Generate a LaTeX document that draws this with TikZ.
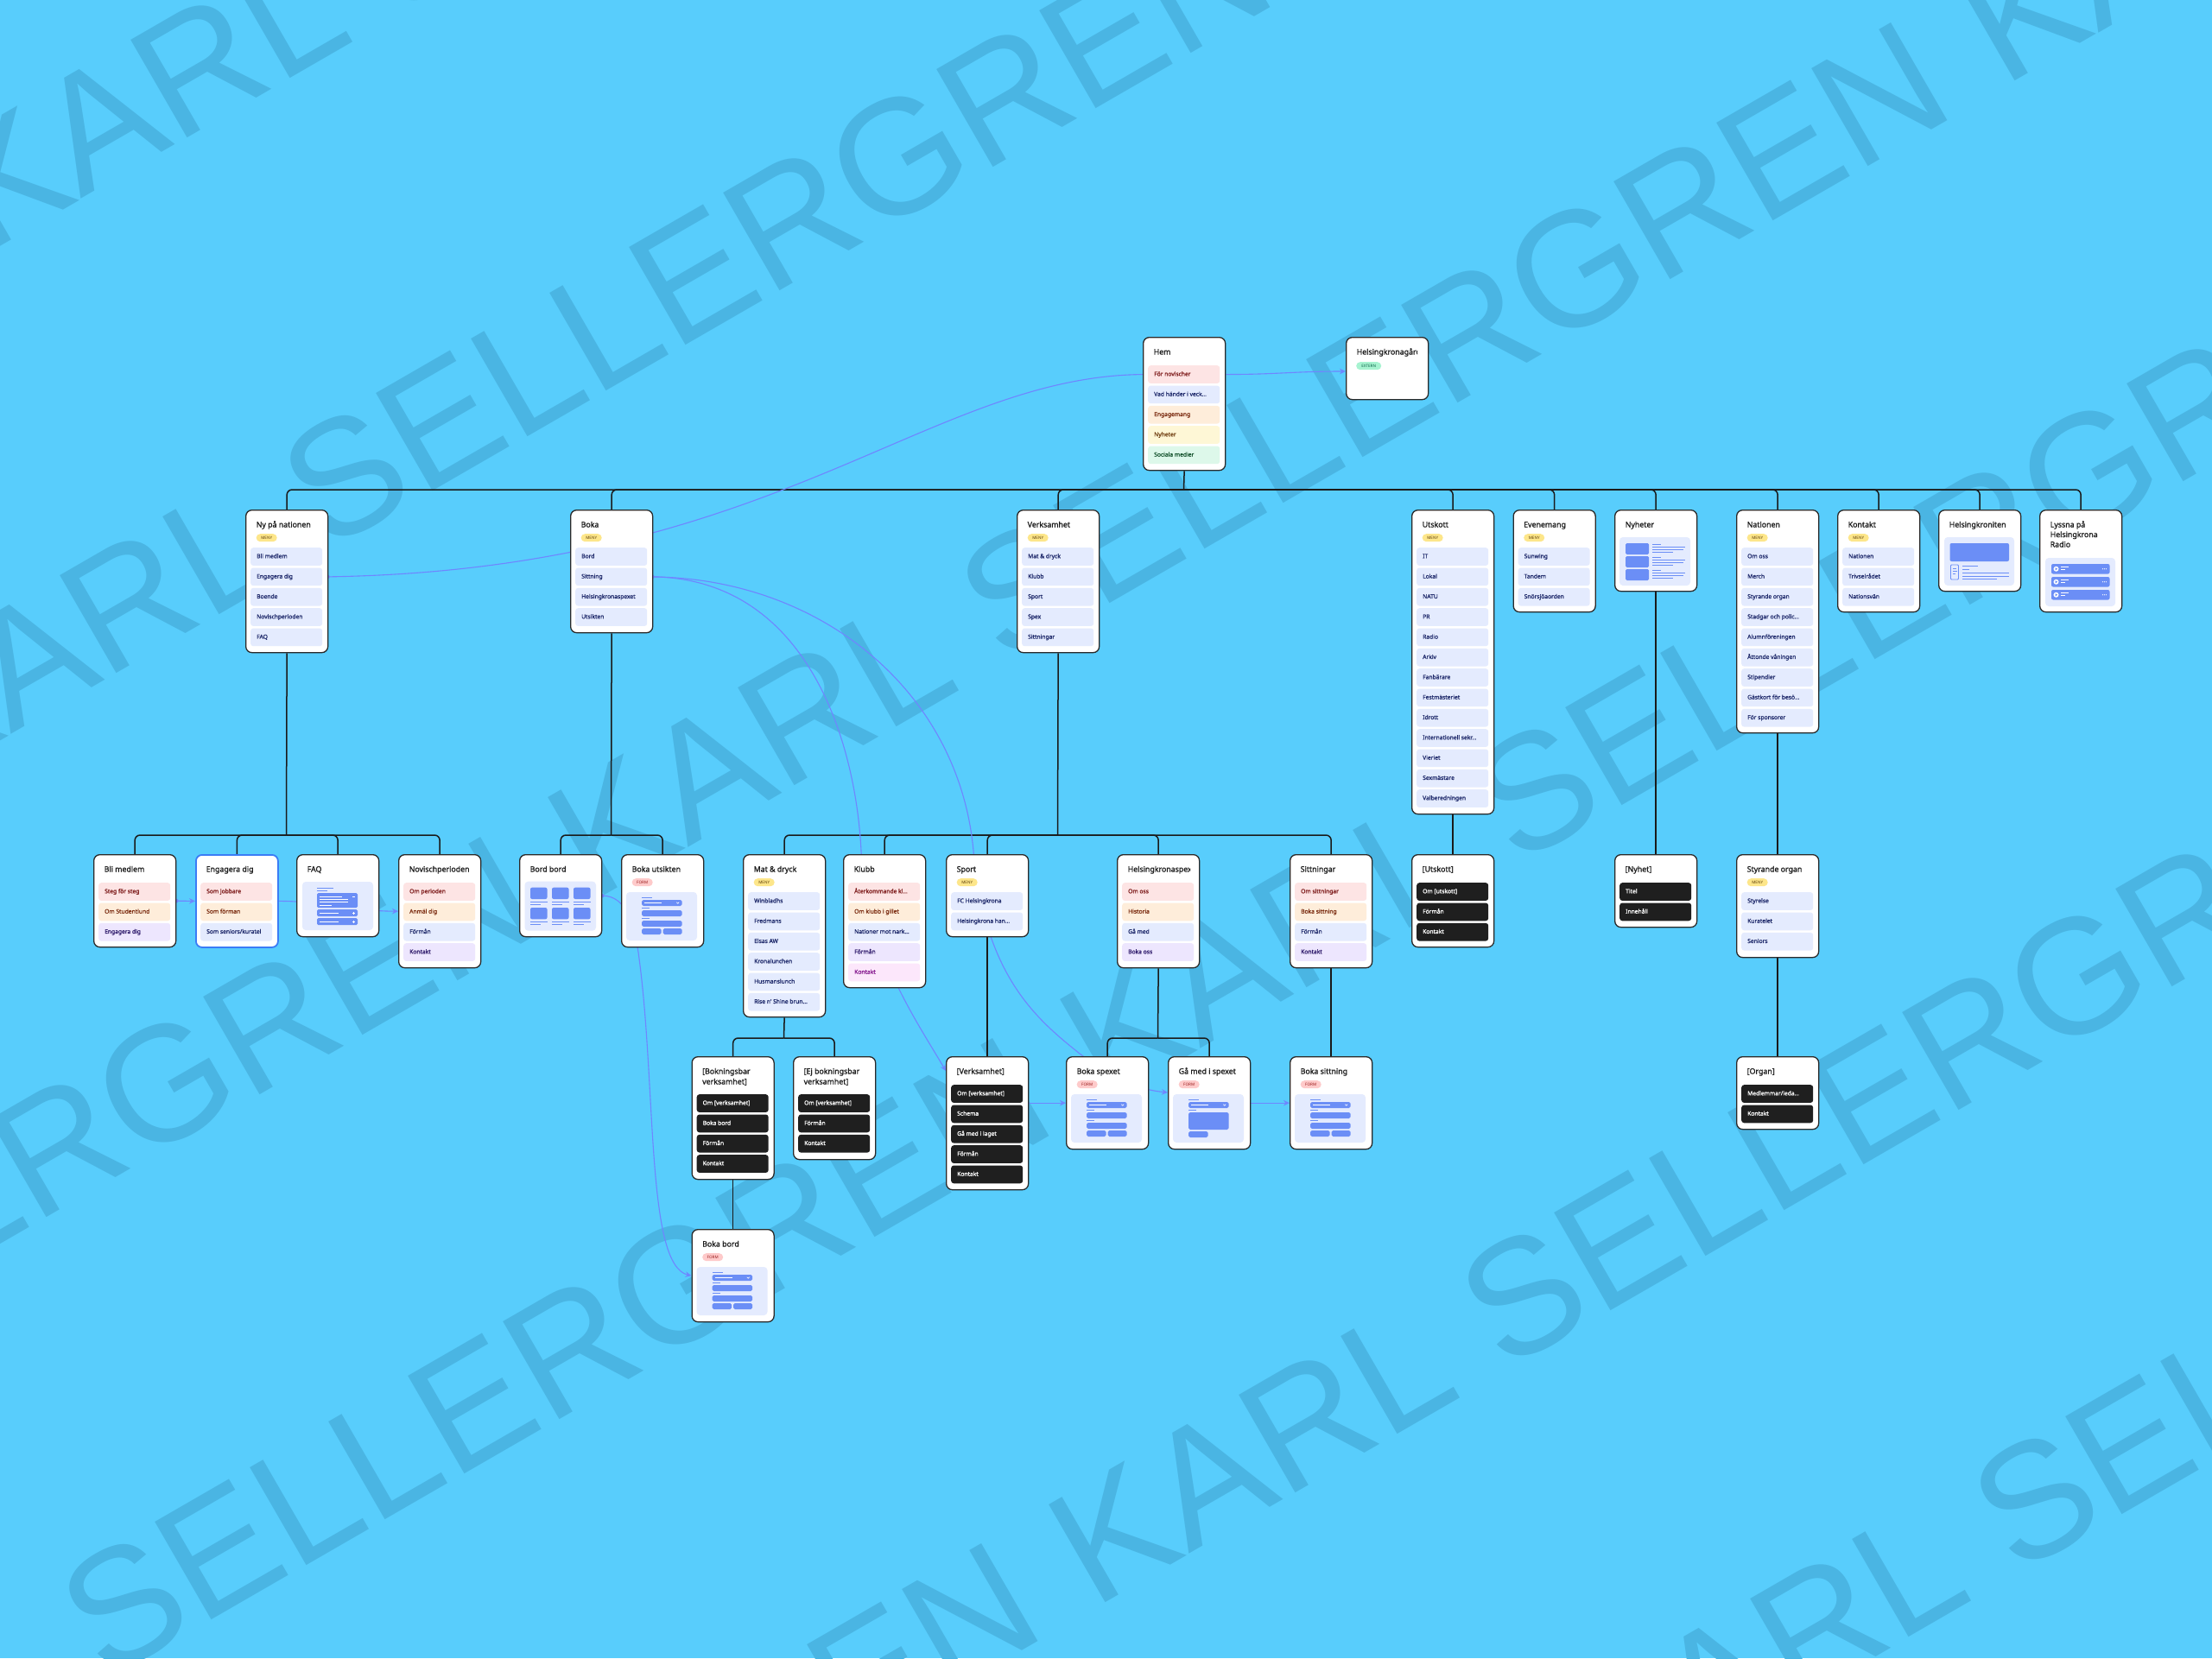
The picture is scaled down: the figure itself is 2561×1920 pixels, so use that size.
\documentclass[tikz,border=0pt]{standalone}
\usepackage{fontspec}
\setmainfont{Noto Sans}
\newfontfamily\ttlfam[FakeBold=1.2]{Noto Sans}
\newfontfamily\itmfam[FakeBold=1.3]{Noto Sans}
\newfontfamily\wmfam{Liberation Sans}
\usetikzlibrary{arrows.meta,calc}
\pgfdeclarelayer{wmlayer}
\pgfdeclarelayer{linklayer}
\pgfsetlayers{wmlayer,linklayer,main}
\definecolor{bgc}{HTML}{58CDFC}
\definecolor{wmc}{HTML}{4AB5E3}
\definecolor{cardline}{HTML}{2A2A2A}
\definecolor{titlec}{HTML}{1C1C1C}
\definecolor{treec}{HTML}{1A1A1A}
\definecolor{linkc}{HTML}{6F86FF}
\definecolor{engc}{HTML}{3B7CF6}
\definecolor{fb}{HTML}{6B8EF6}
\definecolor{panelbg}{HTML}{E4EBFE}
\definecolor{ibg-blue}{HTML}{E4EBFE}\definecolor{ifg-blue}{HTML}{1F2A6B}
\definecolor{ibg-red}{HTML}{FDE4E4}\definecolor{ifg-red}{HTML}{7F1D1D}
\definecolor{ibg-orange}{HTML}{FEEDDA}\definecolor{ifg-orange}{HTML}{7C2D12}
\definecolor{ibg-yellow}{HTML}{FEF7D6}\definecolor{ifg-yellow}{HTML}{713F12}
\definecolor{ibg-green}{HTML}{DDF8EA}\definecolor{ifg-green}{HTML}{14532D}
\definecolor{ibg-purple}{HTML}{EDE6FE}\definecolor{ifg-purple}{HTML}{2E1A6B}
\definecolor{ibg-pink}{HTML}{FCE7FB}\definecolor{ifg-pink}{HTML}{86198F}
\definecolor{ibg-dark}{HTML}{1F1F1F}\definecolor{ifg-dark}{HTML}{FFFFFF}
\definecolor{menybg}{HTML}{FDE68A}\definecolor{menyfg}{HTML}{5C3D0A}
\definecolor{formbg}{HTML}{FECACA}\definecolor{formfg}{HTML}{991B1B}
\definecolor{extbg}{HTML}{A7F3D0}\definecolor{extfg}{HTML}{065F46}
\tikzset{
 card/.style={draw=cardline, fill=white, line width=1.3pt, rounded corners=7pt, inner sep=0pt, anchor=north west},
 ttl/.style={font=\ttlfam\fontsize{8.8}{10.5}\selectfont, text=titlec, anchor=base west, inner sep=0pt},
 itm/.style={rounded corners=3pt, inner sep=0pt, anchor=north west, minimum width=83pt, minimum height=20.7pt},
 itxt/.style={font=\itmfam\fontsize{6.7}{8}\selectfont, anchor=west, inner sep=0pt, text height=4.9pt, text depth=1.4pt},
 badge/.style={rounded corners=4.5pt, inner sep=0pt, anchor=north west, minimum width=24pt, minimum height=9pt, font=\bfseries\fontsize{4.6}{5}\selectfont},
 tree/.style={draw=treec, line width=1.5pt, rounded corners=6pt},
 link/.style={draw=linkc, line width=1.1pt},
 lnkarr/.style={-{Stealth[length=7pt,width=6.5pt]}},
 wm/.style={rotate=30, anchor=base west, inner sep=0pt, text=wmc, font=\wmfam\fontsize{190}{190}\selectfont},
}
\newcommand\mkcard[6]{%
  \node[card, minimum width=#4pt, minimum height=#5pt] (#1) at (#2,#3) {};
  \node[ttl] (#1-t) at (#2+12.5,#3+20.5) {#6};}
\newcommand\mkitems[4]{%
  \foreach \ks/\kt [count=\ki] in {#4}{%
    \node[itm, fill=ibg-\ks] (#1-\ki) at (#2+6,{#3+(\ki-1)*23.333}) {};
    \node[itxt, text=ifg-\ks] (#1-\ki-x) at ([xshift=7pt]#1-\ki.west) {\kt};
  }}
\newcommand\meny[3]{\node[badge, fill=menybg, text=menyfg] (#1-b) at (#2+12.5,#3+28) {MENY};}
\newcommand\formb[3]{\node[badge, fill=formbg, text=formfg] (#1-b) at (#2+12.5,#3+28) {FORM};}
\newcommand\fpanel[2]{%
  \fill[panelbg, rounded corners=4pt] (#1,#2) rectangle ++(82,56);
  \fill[fb] (#1+18,#2+5.6) rectangle ++(12,1.3);
  \fill[fb, rounded corners=1.8pt] (#1+18,#2+9) rectangle ++(46.6,7);
  \draw[white, line width=0.9pt] (#1+21,#2+12.5) -- ++(20,0);
  \draw[white, line width=0.6pt] (#1+58.3,#2+11.7) -- ++(1.4,1.5) -- ++(1.4,-1.5);
  \fill[fb] (#1+18,#2+18) rectangle ++(9,1.3);
  \fill[fb, rounded corners=1.8pt] (#1+18,#2+21) rectangle ++(46.6,7);
  \fill[fb] (#1+18,#2+30) rectangle ++(9,1.3);
  \fill[fb, rounded corners=1.8pt] (#1+18,#2+33) rectangle ++(46.6,7);
  \fill[fb, rounded corners=1.8pt] (#1+18,#2+42) rectangle ++(22.6,7);
  \fill[fb, rounded corners=1.8pt] (#1+42.6,#2+42) rectangle ++(22,7);}
\begin{document}
\begin{tikzpicture}[x=1pt,y=-1pt]
\useasboundingbox (0,0) rectangle (2561,1920);
% ---------- background and watermark
\begin{pgfonlayer}{wmlayer}
\fill[bgc] (0,0) rectangle (2561,1920);
\begin{scope}
\clip (0,0) rectangle (2561,1920);
\foreach \wmP/\wmA/\wmL/\wmH in {247/-161/0/1, 743/-542/0/1, 1248/72/-1/1, 1747/469/-1/1, 2247/165/-2/1, 2747/560/-2/0}{
  \foreach \wmN in {\wmL,...,\wmH}{
    \node[wm] (wm-\wmP-\wmN) at ({\wmP*0.5+(\wmA+\wmN*1886)*0.866},{\wmP*0.866-(\wmA+\wmN*1886)*0.5}) {KARL SELLERGREN};
  }}
\end{scope}
\end{pgfonlayer}
% ---------- row 1
\mkcard{hem}{1323}{390}{95}{154}{Hem}
\mkitems{hem}{1323}{423}{red/För novischer, blue/Vad händer i veck…, orange/Engagemang, yellow/Nyheter, green/Sociala medier}
\node[card, minimum width=95pt, minimum height=72pt] (ext) at (1558,390) {};
\begin{scope}
\clip (1565,395) rectangle (1641,425);
\node[ttl] (ext-t) at (1570.5,410.5) {Helsingkronagården};
\end{scope}
\node[badge, minimum width=29pt, fill=extbg, text=extfg] (ext-b) at (1570,419) {EXTERN};
% ---------- row 2
\mkcard{ny}{284}{590}{95}{165}{Ny på nationen}\meny{ny}{284}{590}
\mkitems{ny}{284}{634}{blue/Bli medlem, blue/Engagera dig, blue/Boende, blue/Novischperioden, blue/FAQ}
\mkcard{boka}{660}{590}{95}{142}{Boka}\meny{boka}{660}{590}
\mkitems{boka}{660}{634}{blue/Bord, blue/Sittning, blue/Helsingkronaspexet, blue/Utsikten}
\mkcard{verk}{1177}{590}{95}{165}{Verksamhet}\meny{verk}{1177}{590}
\mkitems{verk}{1177}{634}{blue/Mat \& dryck, blue/Klubb, blue/Sport, blue/Spex, blue/Sittningar}
\mkcard{utsk}{1634}{590}{95}{352}{Utskott}\meny{utsk}{1634}{590}
\mkitems{utsk}{1634}{634}{blue/IT, blue/Lokal, blue/NATU, blue/PR, blue/Radio, blue/Arkiv, blue/Fanbärare, blue/Festmästeriet, blue/Idrott, blue/Internationell sekr…, blue/Vieriet, blue/Sexmästare, blue/Valberedningen}
\mkcard{even}{1751.5}{590}{95}{118}{Evenemang}\meny{even}{1751.5}{590}
\mkitems{even}{1751.5}{634}{blue/Sunwing, blue/Tandem, blue/Snörsjöaorden}
\mkcard{nyh}{1869}{590}{95}{94}{Nyheter}
\fill[panelbg, rounded corners=4pt] (1875,622) rectangle (1957,678);
\foreach \kj in {0,1,2}{
  \fill[fb, rounded corners=1.5pt] (1882,{629+15*\kj}) rectangle ++(27,13);
  \fill[fb] (1913,{630+15*\kj}) rectangle ++(10,1.1);
  \fill[fb] (1913,{633+15*\kj}) rectangle ++(38,1.1);
  \fill[fb] (1913,{636+15*\kj}) rectangle ++(36,1.1);
  \fill[fb] (1913,{639+15*\kj}) rectangle ++(24,1.1);
}
\mkcard{nat}{2010}{590}{95}{258}{Nationen}\meny{nat}{2010}{590}
\mkitems{nat}{2010}{634}{blue/Om oss, blue/Merch, blue/Styrande organ, blue/Stadgar och polic…, blue/Alumnföreningen, blue/Åttonde våningen, blue/Stipendier, blue/Gästkort för besö…, blue/För sponsorer}
\mkcard{kont}{2127}{590}{95}{118}{Kontakt}\meny{kont}{2127}{590}
\mkitems{kont}{2127}{634}{blue/Nationen, blue/Trivselrådet, blue/Nationsvän}
\mkcard{hkron}{2244}{590}{95}{94}{Helsingkroniten}
\fill[panelbg, rounded corners=4pt] (2251,622) rectangle (2332,678);
\fill[fb, rounded corners=2pt] (2257.5,629) rectangle (2326,650);
\draw[fb, line width=0.8pt, rounded corners=1pt] (2258.5,654) rectangle (2267.5,671);
\fill[fb] (2260.5,658) rectangle ++(4,1);
\fill[fb] (2260.5,661) rectangle ++(5,1);
\fill[fb] (2260.5,664) rectangle ++(3,1);
\fill[fb] (2272,655) rectangle ++(18,1.1);
\fill[fb] (2272,659) rectangle ++(8,1.1);
\fill[fb] (2272,663) rectangle ++(54,1.1);
\fill[fb] (2272,666.5) rectangle ++(54,1.1);
\fill[fb] (2272,670) rectangle ++(40,1.1);
\mkcard{lyss}{2361}{590}{95}{118}{Lyssna på}
\node[ttl] (lyss-t2) at (2373.5,622) {Helsingkrona};
\node[ttl] (lyss-t3) at (2373.5,633.5) {Radio};
\fill[panelbg, rounded corners=4pt] (2368,646) rectangle (2449,702);
\foreach \kj in {0,1,2}{
  \fill[fb, rounded corners=2pt] (2375,{653+15*\kj}) rectangle ++(67.5,11.5);
  \fill[white] (2380.5,{658.75+15*\kj}) circle[radius=3pt];
  \fill[fb] (2379.6,{657.2+15*\kj}) -- ++(2.6,1.55) -- ++(-2.6,1.55) -- cycle;
  \fill[white] (2386,{655.5+15*\kj}) rectangle ++(9,1.2);
  \fill[white] (2386,{659+15*\kj}) rectangle ++(5,1.2);
  \foreach \kd in {0,1,2}{\fill[white] ({2434.5+2*\kd},{658.75+15*\kj}) circle[radius=0.55pt];}
}
% ---------- row 3
\mkcard{bli}{108}{989}{95}{107}{Bli medlem}
\mkitems{bli}{108}{1022}{red/Steg för steg, orange/Om Studentlund, purple/Engagera dig}
\node[card, draw=engc, line width=1.8pt, minimum width=95pt, minimum height=107pt] (eng) at (226,989) {};
\node[ttl] (eng-t) at (238.5,1009.5) {Engagera dig};
\mkitems{eng}{226}{1022}{red/Som jobbare, orange/Som förman, blue/{Som seniors/kuratel}}
\mkcard{faq}{343}{989}{95}{95}{FAQ}
\fill[panelbg, rounded corners=4pt] (350,1021) rectangle (432,1077);
\fill[fb] (367,1028) rectangle ++(19,1.1);
\fill[fb] (367,1031) rectangle ++(12,1.1);
\fill[fb, rounded corners=1.5pt] (367,1034) rectangle (414,1051);
\fill[white] (370,1038) rectangle ++(26,0.9);
\fill[white] (370,1041.2) rectangle ++(33,0.9);
\fill[white] (370,1044.4) rectangle ++(33,0.9);
\fill[white] (370,1047.6) rectangle ++(14,0.9);
\fill[white] (408,1037.8) rectangle ++(3,0.9);
\foreach \ky in {1053,1063}{
  \fill[fb, rounded corners=1.5pt] (367,\ky) rectangle ++(47,8);
  \fill[white] (370,{\ky+3.6}) rectangle ++(22,0.9);
  \fill[white] (408,{\ky+3.6}) rectangle ++(3,0.9);
  \fill[white] (409.05,{\ky+2.55}) rectangle ++(0.9,3);
}
\mkcard{nov}{461}{989}{95}{131}{}
\begin{scope}
\clip (466,994) rectangle (543,1020);
\node[ttl] (nov-tt) at (473.5,1009.5) {Novischperioden};
\end{scope}
\mkitems{nov}{461}{1022}{red/Om perioden, orange/Anmäl dig, blue/Förmån, purple/Kontakt}
\mkcard{bord}{601}{989}{95}{95}{Bord bord}
\fill[panelbg, rounded corners=4pt] (607.5,1020.7) rectangle (690,1077.7);
\foreach \kx in {614,639,664}{\foreach \ky in {1027.7,1051}{
  \fill[fb, rounded corners=2pt] (\kx,\ky) rectangle ++(19.5,13.3);
  \fill[fb] (\kx,{\ky+16}) rectangle ++(19.5,1.1);
  \fill[fb] (\kx,{\ky+19}) rectangle ++(12,1.1);
}}
\mkcard{utsi}{719}{989}{95}{107}{Boka utsikten}\formb{utsi}{719}{989}
\fpanel{725}{1033}
\mkcard{mat}{860}{989}{95}{188}{Mat \& dryck}\meny{mat}{860}{989}
\mkitems{mat}{860}{1033}{blue/Winbladhs, blue/Fredmans, blue/Elsas AW, blue/Kronalunchen, blue/Husmanslunch, blue/Rise n' Shine brun…}
\mkcard{klubb}{976}{989}{95}{154}{Klubb}
\mkitems{klubb}{976}{1022}{red/Återkommande kl…, orange/Om klubb i gillet, blue/Nationer mot nark…, purple/Förmån, pink/Kontakt}
\mkcard{sport}{1095}{989}{95}{95}{Sport}\meny{sport}{1095}{989}
\mkitems{sport}{1095}{1033}{blue/FC Helsingkrona, blue/Helsingkrona han…}
\mkcard{spex}{1293}{989}{95}{131}{}
\begin{scope}
\clip (1298,994) rectangle (1378,1020);
\node[ttl] (spex-tt) at (1305.5,1009.5) {Helsingkronaspexet};
\end{scope}
\mkitems{spex}{1293}{1022}{red/Om oss, orange/Historia, blue/Gå med, purple/Boka oss}
\mkcard{sitt}{1493}{989}{95}{131}{Sittningar}
\mkitems{sitt}{1493}{1022}{red/Om sittningar, orange/Boka sittning, blue/Förmån, purple/Kontakt}
\mkcard{utskc}{1634}{989}{95}{107}{[Utskott]}
\mkitems{utskc}{1634}{1022}{dark/Om [utskott], dark/Förmån, dark/Kontakt}
\mkcard{nyhet}{1869}{989}{95}{84}{[Nyhet]}
\mkitems{nyhet}{1869}{1022}{dark/Titel, dark/Innehåll}
\mkcard{styr}{2010}{989}{95}{119}{Styrande organ}\meny{styr}{2010}{989}
\mkitems{styr}{2010}{1033}{blue/Styrelse, blue/Kuratelet, blue/Seniors}
% ---------- row 4
\mkcard{bokn}{800.5}{1223}{95}{142}{[Bokningsbar}
\node[ttl] (bokn-t2) at (813,1255.5) {verksamhet]};
\mkitems{bokn}{800.5}{1267}{dark/Om [verksamhet], dark/Boka bord, dark/Förmån, dark/Kontakt}
\mkcard{ejb}{918}{1223}{95}{119}{[Ej bokningsbar}
\node[ttl] (ejb-t2) at (930.5,1255.5) {verksamhet]};
\mkitems{ejb}{918}{1267}{dark/Om [verksamhet], dark/Förmån, dark/Kontakt}
\mkcard{verkc}{1095}{1223}{95}{154}{[Verksamhet]}
\mkitems{verkc}{1095}{1256}{dark/Om [verksamhet], dark/Schema, dark/Gå med i laget, dark/Förmån, dark/Kontakt}
\mkcard{bspex}{1234}{1223}{95}{107}{Boka spexet}\formb{bspex}{1234}{1223}
\fpanel{1240}{1267}
\mkcard{gamed}{1352}{1223}{95}{107}{Gå med i spexet}\formb{gamed}{1352}{1223}
\fill[panelbg, rounded corners=4pt] (1358,1267) rectangle ++(82,56);
\fill[fb] (1376,1272.6) rectangle ++(12,1.3);
\fill[fb, rounded corners=1.8pt] (1376,1276) rectangle ++(46.6,7);
\draw[white, line width=0.9pt] (1379,1279.5) -- ++(20,0);
\draw[white, line width=0.6pt] (1416.3,1278.7) -- ++(1.4,1.5) -- ++(1.4,-1.5);
\fill[fb] (1376,1285) rectangle ++(9,1.3);
\fill[fb, rounded corners=1.8pt] (1376,1288) rectangle ++(46.6,20);
\fill[fb, rounded corners=1.8pt] (1376,1310) rectangle ++(22.6,7);
\mkcard{bsitt}{1493}{1223}{95}{107}{Boka sittning}\formb{bsitt}{1493}{1223}
\fpanel{1499}{1267}
\mkcard{organ}{2010}{1223}{95}{84}{[Organ]}
\mkitems{organ}{2010}{1256}{dark/{Medlemmar/leda…}, dark/Kontakt}
% ---------- row 5
\mkcard{bokab}{800.5}{1423}{95}{107}{Boka bord}\formb{bokab}{800.5}{1423}
\fpanel{806.5}{1467}
% ---------- connectors
\begin{pgfonlayer}{linklayer}
\coordinate (hb) at (1370.5,567);
\draw[tree] (hem.south) -- (hb);
\foreach \kn in {ny,boka,verk,utsk,even,nyh,nat,kont,hkron,lyss}{\draw[tree] (hb) -| (\kn.north);}
\coordinate (nyb) at (331.5,967);
\draw[tree] (ny.south) -- (nyb);
\foreach \kn in {bli,eng,faq,nov}{\draw[tree] (nyb) -| (\kn.north);}
\coordinate (bokb) at (707.5,967);
\draw[tree] (boka.south) -- (bokb);
\foreach \kn in {bord,utsi}{\draw[tree] (bokb) -| (\kn.north);}
\coordinate (verb) at (1224.5,967);
\draw[tree] (verk.south) -- (verb);
\foreach \kn in {mat,klubb,sport,spex,sitt}{\draw[tree] (verb) -| (\kn.north);}
\draw[tree] (utsk.south) -- (utskc.north);
\draw[tree] (nyh.south) -- (nyhet.north);
\draw[tree] (nat.south) -- (styr.north);
\coordinate (matb) at (907.5,1202);
\draw[tree] (mat.south) -- (matb);
\foreach \kn in {bokn,ejb}{\draw[tree] (matb) -| (\kn.north);}
\draw[tree] (sport.south) -- (verkc.north);
\coordinate (spexb) at (1340.5,1202);
\draw[tree] (spex.south) -- (spexb);
\foreach \kn in {bspex,gamed}{\draw[tree] (spexb) -| (\kn.north);}
\draw[tree] (sitt.south) -- (bsitt.north);
\draw[tree] (styr.south) -- (organ.north);
\draw[tree] (bokn.south) -- (bokab.north);
% prototype links
\draw[link,lnkarr] (hem.east |- hem-1.center) .. controls +(60,0) and +(-60,0) .. ([yshift=-40pt]ext.north west);
\fill[linkc] ($(ny-2.east)+(6,0)$) circle[radius=2.3pt];
\draw[link] ($(ny-2.east)+(6,0)$) .. controls (900,660) and (1073,436) .. (hem.west |- hem-1.center);
\fill[linkc] ($(boka-2.east)+(6,0)$) circle[radius=2.3pt];
\draw[link,lnkarr] ($(boka-2.east)+(6,0)$) .. controls (930,670) and (990,850) .. (997,985) .. controls (1003,1100) and (1060,1180) .. ([yshift=-17pt]verkc.north west);
\draw[link,lnkarr] ($(boka-2.east)+(6,0)$) .. controls (950,670) and (1110,800) .. (1127,985) .. controls (1140,1130) and (1200,1180) .. (1250,1220) .. controls (1290,1250) and (1320,1262) .. ([yshift=-42pt]gamed.north west);
\fill[linkc] (bord.east) circle[radius=2.3pt];
\draw[link,lnkarr] (bord.east) .. controls (725,1037) and (735,1070) .. (740,1110) .. controls (760,1260) and (748,1465) .. (bokab.west);
\draw[link,lnkarr] (verkc.east |- bspex.west) -- (bspex.west);
\draw[link,lnkarr] (gamed.east) -- (bsitt.west);
\fill[linkc] (bli.east) circle[radius=2.3pt];
\draw[link,lnkarr] (bli.east) -- (eng.west);
\draw[link,lnkarr] (eng.east) .. controls +(50,0) and +(-50,0) .. (nov.west);
\end{pgfonlayer}
\end{tikzpicture}
\end{document}
